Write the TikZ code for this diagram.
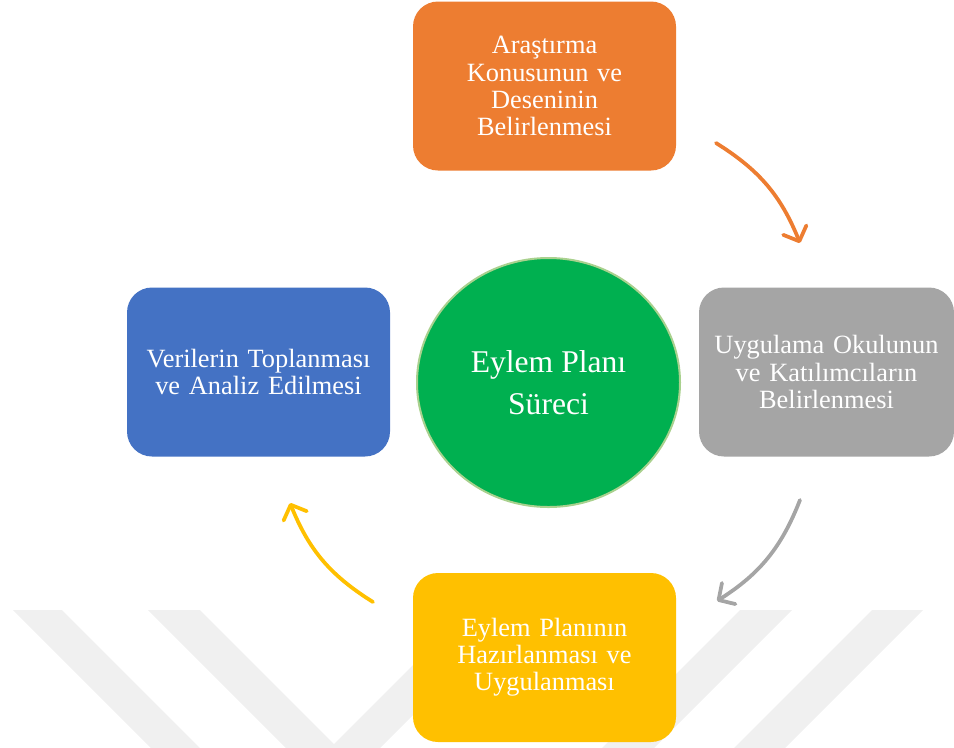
\documentclass[tikz,border=0pt]{standalone}
\usepackage{fontspec}
\setmainfont{Liberation Serif}
\usetikzlibrary{arrows.meta, shapes.geometric}

\definecolor{topicorange}{HTML}{ED7D31}
\definecolor{schoolgray}{HTML}{A5A5A5}
\definecolor{datablue}{HTML}{4472C4}
\definecolor{planyellow}{HTML}{FFC000}
\definecolor{hubgreen}{HTML}{00B050}
\definecolor{hubrim}{HTML}{A9D18E}
\definecolor{markgray}{HTML}{F0F0F0}

\begin{document}
\begin{tikzpicture}[%
        font = \fontsize{15}{15.4}\selectfont,
        > = {Straight Barb[round, length=2.4mm, width=5mm]},
        line width = 0.75mm,
        stage/.style = {rounded corners = 0.5cm, text = white, align = center,
            inner sep = 0pt, minimum width = 5.26cm, minimum height = 3.38cm,
            text width = 5.1cm},
        flow/.style = {->, line cap = round}
    ]

        % Frame of the whole picture.
        \useasboundingbox (0, 0) rectangle (19.08, -14.94);

        % Faint watermark bands behind the diagram.
        \begin{scope}
            \clip (0, 0) rectangle (19.08, -14.94);
            \fill[markgray] (0.26, -12.2) -- (1.24, -12.2) -- (4.24, -15.2) -- (3.26, -15.2) -- cycle;
            \fill[markgray] (2.96, -12.2) -- (4.0, -12.2) -- (7.0, -15.2) -- (5.96, -15.2) -- cycle;
            \fill[markgray] (6.36, -15.2) -- (7.36, -15.2) -- (10.36, -12.2) -- (9.36, -12.2) -- cycle;
            \fill[markgray] (14.8, -12.2) -- (15.84, -12.2) -- (12.84, -15.2) -- (11.8, -15.2) -- cycle;
            \fill[markgray] (17.44, -12.2) -- (18.46, -12.2) -- (15.46, -15.2) -- (14.44, -15.2) -- cycle;
        \end{scope}

        % The four stages of the cycle.
        \node[stage, fill = topicorange] (topic) at (10.89, -1.72)
            {Araştırma\\ Konusunun ve\\ Deseninin\\ Belirlenmesi};
        \node[stage, fill = schoolgray, minimum width = 5.1cm] (school) at (16.53, -7.44)
            {Uygulama Okulunun\\ ve Katılımcıların\\ Belirlenmesi};
        \node[stage, fill = planyellow] (plan) at (10.89, -13.15)
            {Eylem Planının\\ Hazırlanması ve\\ Uygulanması};
        \node[stage, fill = datablue] (data) at (5.17, -7.44)
            {Verilerin Toplanması\\ ve Analiz Edilmesi};

        % The centre of the cycle.
        \node[ellipse, fill = hubgreen, draw = hubrim, line width = 0.4mm,
            minimum width = 5.26cm, minimum height = 4.98cm, inner sep = 0pt,
            text = white, align = center,
            font = \fontsize{18}{23.6}\selectfont] (hub) at (10.97, -7.65)
            {Eylem Planı\\ Süreci};

        % End points of the curved arrows.
        \coordinate (topicout) at (14.32, -2.86);
        \coordinate (schoolin) at (16.0, -4.86);
        \coordinate (schoolout) at (16.0, -10.0);
        \coordinate (planin) at (14.34, -12.02);
        \coordinate (planout) at (7.46, -12.04);
        \coordinate (datain) at (5.8, -10.06);

        % Arrows from one stage to the next.
        \draw[flow, topicorange] (topicout) to[bend left = 18] (schoolin);
        \draw[flow, schoolgray] (schoolout) to[bend left = 18] (planin);
        \draw[flow, planyellow] (planout) to[bend left = 18] (datain);
    \end{tikzpicture}
\end{document}
